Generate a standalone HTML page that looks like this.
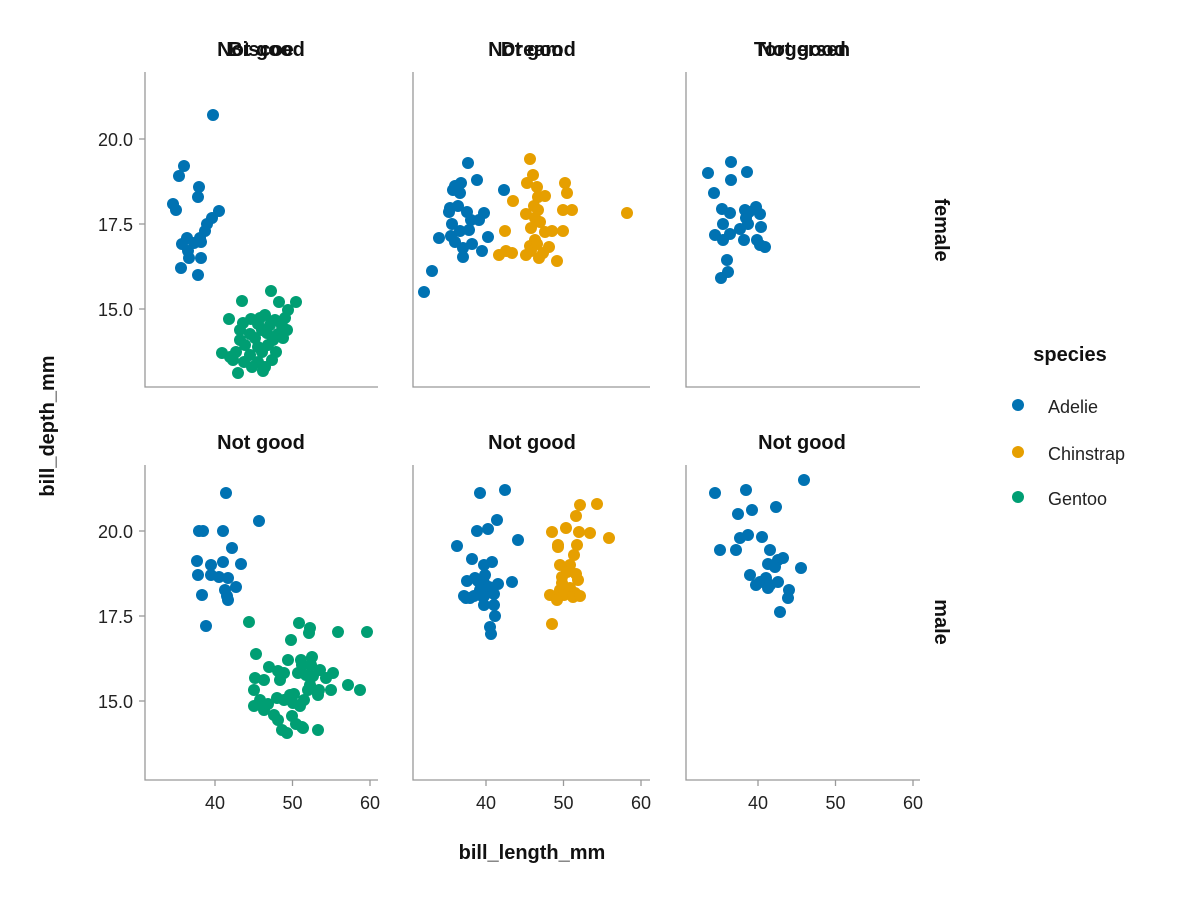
<!DOCTYPE html>
<html><head><meta charset="utf-8"><style>
body{margin:0;background:#fff}
svg{display:block;font-family:"Liberation Sans",sans-serif}
.t{font-size:18px;fill:#222}
.b{font-size:20px;font-weight:bold;fill:#111}
.ax{stroke:#999;stroke-width:1.3;fill:none}
</style></head><body>
<svg id="s" width="1200" height="900" viewBox="0 0 1200 900" xmlns="http://www.w3.org/2000/svg">
<g id="g"></g>
<text class="b" x="261" y="56" text-anchor="middle">Not good</text>
<text class="b" x="261" y="56" text-anchor="middle">Biscoe</text>
<text class="b" x="532" y="56" text-anchor="middle">Not good</text>
<text class="b" x="532" y="56" text-anchor="middle">Dream</text>
<text class="b" x="802" y="56" text-anchor="middle">Not good</text>
<text class="b" x="802" y="56" text-anchor="middle">Torgersen</text>
<text class="b" x="261" y="449" text-anchor="middle">Not good</text>
<text class="b" x="532" y="449" text-anchor="middle">Not good</text>
<text class="b" x="802" y="449" text-anchor="middle">Not good</text>
<text class="b" transform="translate(935,230) rotate(90)" text-anchor="middle">female</text>
<text class="b" transform="translate(935,622) rotate(90)" text-anchor="middle">male</text>
<text class="b" transform="translate(54,426) rotate(-90)" text-anchor="middle">bill_depth_mm</text>
<text class="b" x="532" y="859" text-anchor="middle">bill_length_mm</text>
<text class="b" x="1070" y="361" text-anchor="middle">species</text>
<circle cx="1018" cy="405" r="6" fill="#0072B2"/>
<circle cx="1018" cy="452" r="6" fill="#E69F00"/>
<circle cx="1018" cy="497" r="6" fill="#009E73"/>
<text class="t" x="1048" y="413">Adelie</text>
<text class="t" x="1048" y="460">Chinstrap</text>
<text class="t" x="1048" y="505">Gentoo</text>
</svg>
<script>
var g=document.getElementById('g'),h='';
var cols=[[145,378,215],[413,650,486],[686,920,758]],rows=[[72,387,139],[465,780,531]];
rows.forEach(function(r,ri){cols.forEach(function(c,ci){
 h+='<path class="ax" d="M'+c[0]+' '+r[0]+'V'+r[1]+'H'+c[1]+'"/>';
 if(ci==0){for(var k=0;k<3;k++){var y=r[2]+k*85;h+='<path class="ax" d="M'+(c[0]-6)+' '+y+'H'+c[0]+'"/><text class="t" x="'+(c[0]-12)+'" y="'+(y+7)+'" text-anchor="end">'+['20.0','17.5','15.0'][k]+'</text>';}}
 if(ri==1){for(var k=0;k<3;k++){var x=c[2]+k*77.5;h+='<path class="ax" d="M'+x+' '+r[1]+'V'+(r[1]+6)+'"/><text class="t" x="'+x+'" y="'+(r[1]+29)+'" text-anchor="middle">'+(40+10*k)+'</text>';}}
});});
var B='#0072B2',O='#E69F00',G='#009E73';
var pts=[[B,[213,115,184,166,179,176,199,187,198,197,173,204,176,210,219,211,212,218,207,224,205,231,187,238,200,238,182,244,194,243,201,242,188,251,181,268,201,258,198,275,189,258]],
[G,[271,291,242,301,296,302,229,319,279,302,288,310,260,318,251,319,265,315,275,320,285,318,243,323,258,324,270,325,282,326,262,330,240,330,250,334,267,333,278,334,287,330,240,340,255,338,273,340,283,338,245,345,258,347,268,345,222,353,236,352,250,355,262,352,276,352,233,360,244,362,258,362,272,360,265,367,238,373,263,371,252,367,230,357]],
[B,[468,163,477,180,455,186,461,183,453,190,460,193,504,190,450,208,458,206,467,212,484,213,449,212,471,220,479,220,452,224,460,231,451,236,469,230,439,238,488,237,455,242,463,248,472,244,482,251,463,257,432,271,424,292]],
[O,[530,159,533,175,527,183,537,187,513,201,538,197,545,196,534,206,565,183,567,193,563,210,572,210,526,214,538,210,535,218,531,228,540,222,545,232,535,240,530,246,552,231,505,231,563,231,531,251,537,244,506,251,512,253,499,255,526,255,543,253,549,247,557,261,539,258,627,213]],
[B,[708,173,731,162,747,172,714,193,731,180,745,210,722,209,723,224,730,213,746,218,756,207,760,214,748,224,730,234,740,229,715,235,761,227,723,240,744,240,757,240,765,247,727,260,760,245,721,278,728,272,749,212]],
[B,[226,493,259,521,199,531,203,531,223,531,232,548,197,561,241,564,211,565,223,562,211,575,219,577,228,578,198,575,225,590,236,587,202,595,227,596,228,600,206,626]],
[G,[249,622,299,623,310,628,309,633,338,632,367,632,291,640,256,654,288,660,301,660,312,657,302,665,311,665,269,667,278,671,320,670,333,673,326,678,255,678,264,680,284,673,298,673,306,675,313,676,280,680,331,690,348,685,360,690,254,690,294,694,310,685,319,690,260,700,284,700,290,695,308,690,254,706,277,698,304,700,318,695,264,710,274,715,278,720,300,706,292,716,282,730,296,724,302,727,318,730,287,733,303,728,293,703,263,706,268,704]],
[B,[480,493,505,490,477,531,488,529,497,520,457,546,518,540,472,559,484,565,492,562,475,578,485,575,467,581,478,581,484,583,498,584,480,590,489,587,512,582,464,596,474,596,484,596,494,594,482,596,470,598,484,605,494,605,495,616,490,627,491,634,466,598]],
[O,[580,505,597,504,576,516,552,532,566,528,579,532,558,545,577,545,590,533,609,538,558,547,574,555,570,565,560,565,576,574,562,577,578,580,560,590,570,588,564,595,575,593,550,595,557,600,573,597,580,596,552,624,567,572,562,583]],
[B,[715,493,746,490,804,480,738,514,752,510,776,507,720,550,736,550,740,538,748,535,762,537,770,550,778,560,768,564,775,567,783,558,801,568,750,575,766,578,760,582,770,585,778,582,768,588,756,585,789,590,780,612,788,598]]];
pts.forEach(function(p){for(var i=0;i<p[1].length;i+=2)h+='<circle cx="'+p[1][i]+'" cy="'+p[1][i+1]+'" r="6" fill="'+p[0]+'"/>';});
g.innerHTML=h;
</script>
</body></html>
